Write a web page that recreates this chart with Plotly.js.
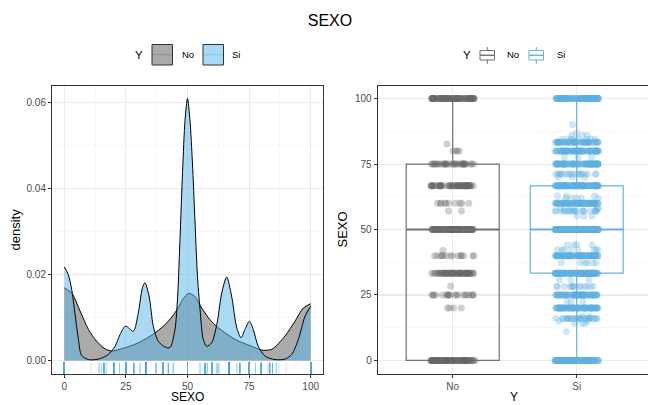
<!DOCTYPE html>
<html><head><meta charset="utf-8">
<script src="https://cdn.plot.ly/plotly-3.0.1.min.js"></script>
<style>html,body{margin:0;padding:0;background:#fff;} #chart{width:648px;height:405px;}</style>
</head><body><div id="chart"></div>
<script>
// ---------------- data ----------------
const chartTitle = 'SEXO';
const groups = ['No', 'Si'];
const legendTitle = 'Y';

// density curves (x = SEXO, y = density)
const noDensX = [0, 3, 6.4, 9.8, 13.1, 16.5, 19.2, 23.3, 30, 36.8, 42.2, 46.3, 48, 50.5, 53, 55.8, 59.1, 62.5, 69.3, 76, 80.1, 84.2, 89.6, 93.6, 97, 100];
const noDensY = [0.0169, 0.0157, 0.0115, 0.0072, 0.0045, 0.0027, 0.0022, 0.0027, 0.0041, 0.0064, 0.0091, 0.0123, 0.0142, 0.0156, 0.0149, 0.0122, 0.0095, 0.0076, 0.0049, 0.0033, 0.0024, 0.0026, 0.0057, 0.0091, 0.0122, 0.0132];
const siDensX = [0, 1.6, 3, 4.3, 5.7, 7, 9.8, 13.8, 17.9, 20.6, 22.6, 24.9, 28, 30, 31.7, 32.7, 34.4, 36.1, 38.1, 40.9, 42.9, 44.9, 46, 47, 48, 49, 50, 51, 52, 53, 54, 55.1, 56.4, 57.8, 59.8, 61.9, 63.9, 65.9, 67.9, 70, 71.7, 73.3, 75.1, 76.7, 78.7, 81.5, 85.5, 89.6, 92.3, 95, 97.7, 100];
const siDensY = [0.0218, 0.02, 0.0165, 0.011, 0.005, 0.0012, 0.0002, 0.0003, 0.0014, 0.0033, 0.006, 0.008, 0.0068, 0.011, 0.0169, 0.0181, 0.015, 0.008, 0.0045, 0.0031, 0.003, 0.0072, 0.015, 0.029, 0.044, 0.056, 0.061, 0.056, 0.046, 0.033, 0.02, 0.0119, 0.0049, 0.0033, 0.0041, 0.0084, 0.0157, 0.0194, 0.015, 0.0076, 0.0053, 0.0072, 0.0091, 0.0072, 0.0033, 0.001, 0.0002, 0.0003, 0.0014, 0.0049, 0.0103, 0.0126];

// observations (value + how many times it occurs)
const noValues = [0, 20, 25, 28.3, 33.3, 40, 42, 50, 57.1, 60, 66.7, 75, 80, 82.7, 100];
const noCounts = [90, 4, 20, 1, 60, 14, 1, 100, 2, 10, 60, 35, 4, 1, 90];
const siValues = [0, 10.9, 14.1, 15, 16, 17, 20, 22.4, 25, 28.2, 30.8, 33.3, 37.2, 40, 42.3, 44.2, 50, 55.1, 57.1, 58, 60, 62, 62.8, 66.7, 70, 71.2, 75, 77.6, 80, 83.3, 84.5, 86, 86.9, 90.1, 100];
const siCounts = [100, 1, 3, 2, 25, 2, 70, 3, 70, 14, 3, 100, 6, 80, 8, 4, 200, 3, 20, 4, 80, 5, 3, 100, 3, 18, 80, 3, 70, 55, 8, 3, 1, 1, 100];

// box statistics: [lower whisker, Q1, median, Q3, upper whisker]
const noStats = [0, 0, 50, 75, 100];
const siStats = [0, 33.3, 50, 66.7, 100];

// ticks
const densXTicks = [0, 25, 50, 75, 100];
const densYTicks = [0, 0.02, 0.04, 0.06];
const boxYTicks = [0, 25, 50, 75, 100];

// ---------------- styles ----------------
const FONT = 'Liberation Sans, Arial, Helvetica, sans-serif';
const noFill = 'rgba(85,85,85,0.5)';
const siFill = 'rgba(86,180,233,0.5)';
const noPt = 'rgba(102,102,102,0.3)';
const siPt = 'rgba(92,176,226,0.3)';
const noLine = '#707070';
const siLine = '#64B2E0';
const W = 648, H = 405;
const P = px => px / W;
const Q = py => 1 - py / H;

function expand(vals, counts) {
  const out = [];
  vals.forEach((v, i) => { for (let k = 0; k < counts[i]; k++) out.push(v); });
  return out;
}
const noObs = expand(noValues, noCounts);
const siObs = expand(siValues, siCounts);

const RUG_Y = -0.00205;

const traces = [
  // densities
  {x: noDensX, y: noDensY, type: 'scatter', mode: 'lines', fill: 'tozeroy', fillcolor: noFill,
   line: {color: '#000', width: 1, shape: 'spline', smoothing: 0.8}, xaxis: 'x', yaxis: 'y', hoverinfo: 'skip'},
  {x: siDensX, y: siDensY, type: 'scatter', mode: 'lines', fill: 'tozeroy', fillcolor: siFill,
   line: {color: '#000', width: 1, shape: 'spline', smoothing: 0.8}, xaxis: 'x', yaxis: 'y', hoverinfo: 'skip'},
  // rugs
  {x: noObs, y: noObs.map(() => RUG_Y), type: 'scatter', mode: 'markers', xaxis: 'x', yaxis: 'y',
   marker: {symbol: 'line-ns', size: 9, line: {color: 'rgba(85,85,85,0.3)', width: 1}}, hoverinfo: 'skip'},
  {x: siObs, y: siObs.map(() => RUG_Y), type: 'scatter', mode: 'markers', xaxis: 'x', yaxis: 'y',
   marker: {symbol: 'line-ns', size: 9, line: {color: 'rgba(86,180,233,0.3)', width: 1}}, hoverinfo: 'skip'},
  // boxes (precomputed stats)
  {type: 'box', x: [groups[0]], lowerfence: [noStats[0]], q1: [noStats[1]], median: [noStats[2]], q3: [noStats[3]], upperfence: [noStats[4]],
   width: 0.75, whiskerwidth: 0, boxpoints: false, line: {color: noLine, width: 1.2}, fillcolor: 'rgba(255,255,255,0)',
   xaxis: 'x2', yaxis: 'y2', hoverinfo: 'skip'},
  {type: 'box', x: [groups[1]], lowerfence: [siStats[0]], q1: [siStats[1]], median: [siStats[2]], q3: [siStats[3]], upperfence: [siStats[4]],
   width: 0.75, whiskerwidth: 0, boxpoints: false, line: {color: siLine, width: 1.2}, fillcolor: 'rgba(255,255,255,0)',
   xaxis: 'x2', yaxis: 'y2', hoverinfo: 'skip'},
  // jittered points
  {type: 'box', x: noObs.map(() => groups[0]), y: noObs, width: 0.75, boxpoints: 'all', jitter: 0.47, pointpos: 0,
   line: {width: 0, color: 'rgba(0,0,0,0)'}, fillcolor: 'rgba(0,0,0,0)', whiskerwidth: 0,
   marker: {color: noPt, size: 7, line: {width: 0}}, xaxis: 'x2', yaxis: 'y2', hoverinfo: 'skip'},
  {type: 'box', x: siObs.map(() => groups[1]), y: siObs, width: 0.75, boxpoints: 'all', jitter: 0.47, pointpos: 0,
   line: {width: 0, color: 'rgba(0,0,0,0)'}, fillcolor: 'rgba(0,0,0,0)', whiskerwidth: 0,
   marker: {color: siPt, size: 7, line: {width: 0}}, xaxis: 'x2', yaxis: 'y2', hoverinfo: 'skip'}
];

const gridMajor = '#EBEBEB', gridMinor = '#F4F4F4';
const tickFont = {family: FONT, size: 10, color: '#4D4D4D'};
const axisCommon = {
  showline: true, mirror: true, linecolor: '#333333', linewidth: 1,
  ticks: 'outside', ticklen: 3, tickwidth: 1, tickcolor: '#333333',
  showgrid: true, gridcolor: gridMajor, gridwidth: 1.1, zeroline: false,
  tickfont: tickFont, fixedrange: true
};

const yDomain = [Q(373.5), Q(85.5)];

const shapes = [];
// thicker median lines (from stats)
[noStats, siStats].forEach((s, i) => {
  shapes.push({type: 'line', xref: 'x2', yref: 'y2', x0: i - 0.375, x1: i + 0.375, y0: s[2], y1: s[2],
    line: {color: i === 0 ? noLine : siLine, width: 2.2}});
});
// left legend keys
shapes.push({type: 'rect', xref: 'paper', yref: 'paper', x0: P(152), x1: P(172.5), y0: Q(65), y1: Q(44.5), fillcolor: noFill, line: {color: '#333333', width: 1}});
shapes.push({type: 'line', xref: 'paper', yref: 'paper', x0: P(152.5), x1: P(172), y0: Q(54.75), y1: Q(54.75), line: {color: 'rgba(85,85,85,0.35)', width: 1}});
shapes.push({type: 'rect', xref: 'paper', yref: 'paper', x0: P(203), x1: P(223.5), y0: Q(65), y1: Q(44.5), fillcolor: siFill, line: {color: '#333333', width: 1}});
shapes.push({type: 'line', xref: 'paper', yref: 'paper', x0: P(203.5), x1: P(223), y0: Q(54.75), y1: Q(54.75), line: {color: 'rgba(86,180,233,0.45)', width: 1}});
// right legend keys (box glyphs)
[[480, noLine], [529, siLine]].forEach(([x0, c]) => {
  const xm = x0 + 7.25;
  shapes.push({type: 'rect', xref: 'paper', yref: 'paper', x0: P(x0), x1: P(x0 + 14.5), y0: Q(60), y1: Q(50.5), line: {color: c, width: 1}, fillcolor: 'rgba(255,255,255,0)'});
  shapes.push({type: 'line', xref: 'paper', yref: 'paper', x0: P(xm), x1: P(xm), y0: Q(50.5), y1: Q(47), line: {color: c, width: 1}});
  shapes.push({type: 'line', xref: 'paper', yref: 'paper', x0: P(xm), x1: P(xm), y0: Q(60), y1: Q(64), line: {color: c, width: 1}});
  shapes.push({type: 'line', xref: 'paper', yref: 'paper', x0: P(x0), x1: P(x0 + 14.5), y0: Q(55.25), y1: Q(55.25), line: {color: c, width: 1.4}});
});

const ann = (text, xpx, ypx, opts) => Object.assign({text, x: P(xpx), y: Q(ypx), xref: 'paper', yref: 'paper', showarrow: false,
  xanchor: 'center', yanchor: 'middle', font: {family: FONT, size: 13, color: '#000'}}, opts || {});

const bottomTitle = {y: 0, yanchor: 'bottom', borderpad: 0, font: {family: FONT, size: 12, color: '#000'}};

const annotations = [
  ann('density', 15, 229.5, {textangle: -90}),
  ann('SEXO', 187.5, 398, bottomTitle),
  ann('SEXO', 342, 229.5, {textangle: -90}),
  ann('Y', 514, 398, bottomTitle),
  ann(legendTitle, 139, 55, {font: {family: FONT, size: 11.5, color: '#000'}}),
  ann(groups[0], 179.5, 55, {xanchor: 'left', font: {family: FONT, size: 9.5, color: '#000'}}),
  ann(groups[1], 229.5, 55, {xanchor: 'left', font: {family: FONT, size: 9.5, color: '#000'}}),
  ann(legendTitle, 466.5, 55, {font: {family: FONT, size: 11.5, color: '#000'}}),
  ann(groups[0], 505, 55, {xanchor: 'left', font: {family: FONT, size: 9.5, color: '#000'}}),
  ann(groups[1], 554.5, 55, {xanchor: 'left', font: {family: FONT, size: 9.5, color: '#000'}})
];

const layout = {
  width: W, height: H,
  margin: {l: 0, r: 0, t: 0, b: 0},
  paper_bgcolor: '#fff', plot_bgcolor: '#fff',
  showlegend: false,
  font: {family: FONT},
  title: {text: chartTitle, x: P(330), xanchor: 'center', y: Q(20), yanchor: 'middle', font: {family: FONT, size: 16, color: '#000'}},
  boxmode: 'overlay',
  xaxis: Object.assign({}, axisCommon, {domain: [P(52), P(323)], range: [-5, 105], tickvals: densXTicks, ticktext: densXTicks.map(String),
    minor: {dtick: 12.5, tick0: 0, showgrid: true, gridcolor: gridMinor, gridwidth: 0.6, ticks: ''}, anchor: 'y'}),
  yaxis: Object.assign({}, axisCommon, {domain: yDomain, range: [-0.00305, 0.06405], tickvals: densYTicks, ticktext: densYTicks.map(v => v.toFixed(2)),
    minor: {dtick: 0.01, tick0: 0, showgrid: true, gridcolor: gridMinor, gridwidth: 0.6, ticks: ''}, anchor: 'x'}),
  xaxis2: Object.assign({}, axisCommon, {domain: [P(377.7), 1], type: 'category', categoryorder: 'array', categoryarray: groups,
    range: [-0.605, 1.575], anchor: 'y2'}),
  yaxis2: Object.assign({}, axisCommon, {domain: yDomain, range: [-5, 105], tickvals: boxYTicks, ticktext: boxYTicks.map(String),
    minor: {dtick: 12.5, tick0: 0, showgrid: true, gridcolor: gridMinor, gridwidth: 0.6, ticks: ''}, anchor: 'x2'}),
  shapes, annotations
};

Plotly.newPlot('chart', traces, layout, {staticPlot: true, displayModeBar: false});
</script>
</body></html>
